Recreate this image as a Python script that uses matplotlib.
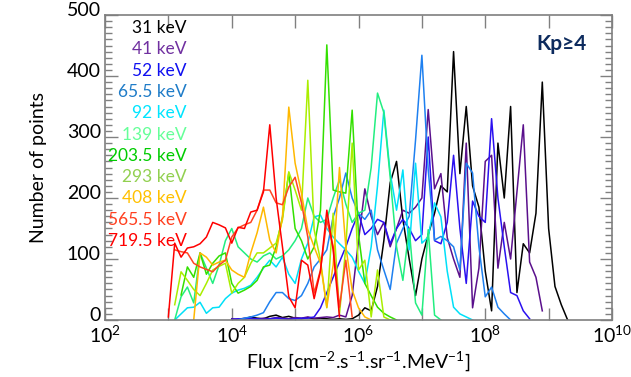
import matplotlib
matplotlib.use("Agg")
import matplotlib.pyplot as plt
import matplotlib.transforms as mtransforms
import numpy as np

plt.rcParams["font.family"] = ["Lato", "DejaVu Sans"]
plt.rcParams["mathtext.fontset"] = "custom"
plt.rcParams["mathtext.rm"] = "Lato"

# histogram bins: log10(flux) of first bin, bins are 0.1 decade wide
BIN_STEP = 0.1

energies = ["31 keV", "41 keV", "52 keV", "65.5 keV", "92 keV", "139 keV",
            "203.5 keV", "293 keV", "408 keV", "565.5 keV", "719.5 keV"]
line_colors = ["#000000", "#5a108c", "#2a10f0", "#1e80f0", "#00e0f8", "#22ee80",
               "#33e000", "#aaee00", "#ffb800", "#ff4422", "#ff0000"]
label_colors = ["#000000", "#7030a0", "#1010f0", "#1f7cc8", "#00e5ff", "#66ff99",
                "#00cc00", "#92d050", "#ffc000", "#ff4020", "#ff0000"]

start_31 = 4.2
counts_31 = [2, 5, 3, 2, 6, 8, 4, 6, 3, 2, 4, 2, 3, 2, 1, 2, 1, 2, 8, 20, 15, 55,
             130, 225, 260, 165, 100, 40, 100, 140, 175, 220, 210, 440, 240, 350,
             220, 185, 80, 15, 290, 200, 350, 45, 125, 110, 175, 390, 150, 55, 25, 0]

start_41 = 4.0
counts_41 = [2, 1, 3, 2, 1, 3, 2, 4, 3, 2, 4, 3, 5, 3, 4, 5, 4, 8, 5, 40, 130,
             215, 170, 140, 160, 120, 150, 180, 175, 185, 200, 345, 215, 240, 135,
             100, 70, 290, 20, 85, 260, 270, 85, 160, 100, 210, 320, 95, 70, 15]

start_52 = 4.0
counts_52 = [1, 2, 1, 3, 2, 1, 2, 3, 2, 1, 2, 3, 3, 5, 20, 45, 70, 95, 120, 150,
             175, 140, 150, 165, 160, 125, 150, 165, 150, 130, 140, 300, 130, 125,
             160, 270, 150, 60, 195, 170, 160, 330, 200, 120, 45, 40, 15, 2]

start_65 = 4.1
counts_65 = [0, 3, 5, 8, 12, 30, 45, 45, 35, 32, 40, 60, 87, 100, 115, 169, 200,
             241, 200, 175, 165, 180, 115, 82, 50, 126, 150, 170, 295, 434, 246,
             131, 137, 130, 120, 82, 257, 241, 120, 38, 54, 21, 10, 0]

start_92 = 3.1
counts_92 = [0, 10, 20, 21, 29, 11, 20, 21, 35, 44, 49, 52, 57, 70, 85, 98, 87,
             103, 75, 60, 100, 126, 169, 172, 150, 136, 125, 115, 103, 80, 60, 120,
             220, 344, 241, 180, 246, 115, 257, 126, 136, 192, 169, 80, 21, 10, 5, 0]

start_139 = 3.1
counts_139 = [0, 38, 54, 28, 110, 85, 60, 90, 130, 150, 120, 110, 100, 95, 105,
              110, 100, 105, 115, 130, 150, 200, 170, 160, 165, 200, 230, 190, 160,
              175, 180, 250, 372, 340, 234, 120, 65, 150, 28, 8, 148, 8, 0]

start_203 = 3.2
counts_203 = [41, 87, 70, 110, 75, 93, 105, 110, 60, 44, 49, 55, 65, 87, 90, 120,
              169, 241, 150, 130, 100, 120, 180, 451, 213, 210, 208, 344, 140, 60,
              40, 21, 11, 5, 0]

start_293 = 3.1
counts_293 = [25, 79, 65, 50, 40, 60, 82, 88, 93, 44, 60, 70, 93, 110, 110, 118,
              126, 164, 243, 213, 180, 393, 148, 98, 20, 175, 10, 120, 290, 82, 98,
              5, 82, 5, 0]

start_408 = 3.4
counts_408 = [0, 110, 103, 90, 95, 98, 82, 75, 70, 110, 143, 185, 131, 110, 169,
              349, 257, 208, 148, 120, 93, 21, 90, 250, 120, 49, 20, 5, 0]

start_565 = 3.1
counts_565 = [115, 112, 110, 93, 87, 83, 79, 90, 98, 136, 151, 156, 160, 180, 213,
              213, 192, 189, 218, 234, 192, 136, 44, 82, 164, 120, 21, 98, 5]

start_719 = 3.0
counts_719 = [5, 126, 103, 118, 120, 125, 136, 160, 156, 151, 126, 152, 150, 177,
              180, 210, 320, 200, 120, 38, 20, 98, 90, 35, 80, 180, 115, 5]

starts = [start_31, start_41, start_52, start_65, start_92, start_139,
          start_203, start_293, start_408, start_565, start_719]
all_counts = [counts_31, counts_41, counts_52, counts_65, counts_92, counts_139,
              counts_203, counts_293, counts_408, counts_565, counts_719]

fig = plt.figure(figsize=(6.31, 3.77), dpi=100)
ax = fig.add_axes([0.1664, 0.1512, 0.8035, 0.809])

for lo, counts, col in zip(starts, all_counts, line_colors):
    flux = 10 ** (lo + BIN_STEP * np.arange(len(counts)))
    ax.plot(flux, counts, color=col, lw=1.1)

ax.set_xscale("log")
ax.set_xlim(1e2, 1e10)
ax.set_ylim(0, 500)

ax.set_xticks([10.0 ** k for k in range(2, 11)])
ax.set_xticklabels(["$\\mathregular{10^{%d}}$" % k if k % 2 == 0 else "" for k in range(2, 11)])
ax.xaxis.set_minor_locator(matplotlib.ticker.NullLocator())
ax.set_yticks(range(0, 501, 100))
ax.yaxis.set_minor_locator(matplotlib.ticker.MultipleLocator(10))

ax.tick_params(which="both", direction="in", top=True, right=True, color="#808080",
               labelsize=14, pad=3)
ax.tick_params(which="major", length=9, width=1)
ax.tick_params(which="minor", length=5, width=1)
for s in ax.spines.values():
    s.set_color("#7f7f7f")
    s.set_linewidth(1.2)

# y tick labels sit a little above their ticks in the original
shift_up = mtransforms.ScaledTranslation(0, 4 / 72, fig.dpi_scale_trans)
for lbl in ax.get_yticklabels():
    lbl.set_transform(lbl.get_transform() + shift_up)

ax.set_xlabel("Flux [cm$^{-2}$.s$^{-1}$.sr$^{-1}$.MeV$^{-1}$]", fontsize=14, labelpad=3)
ax.set_ylabel("Number of points", fontsize=14, labelpad=14)

# energy channel labels
for i, (lab, col) in enumerate(zip(energies, label_colors)):
    ax.text(0.161, 0.957 - i * 0.0698, lab, color=col, fontsize=12.5,
            ha="right", va="center", transform=ax.transAxes)

ax.text(0.95, 0.905, "Kp≥4", color="#0d2b5e", fontsize=15, fontweight="bold",
        ha="right", va="center", transform=ax.transAxes)

fig.savefig("out.png", dpi=100)
